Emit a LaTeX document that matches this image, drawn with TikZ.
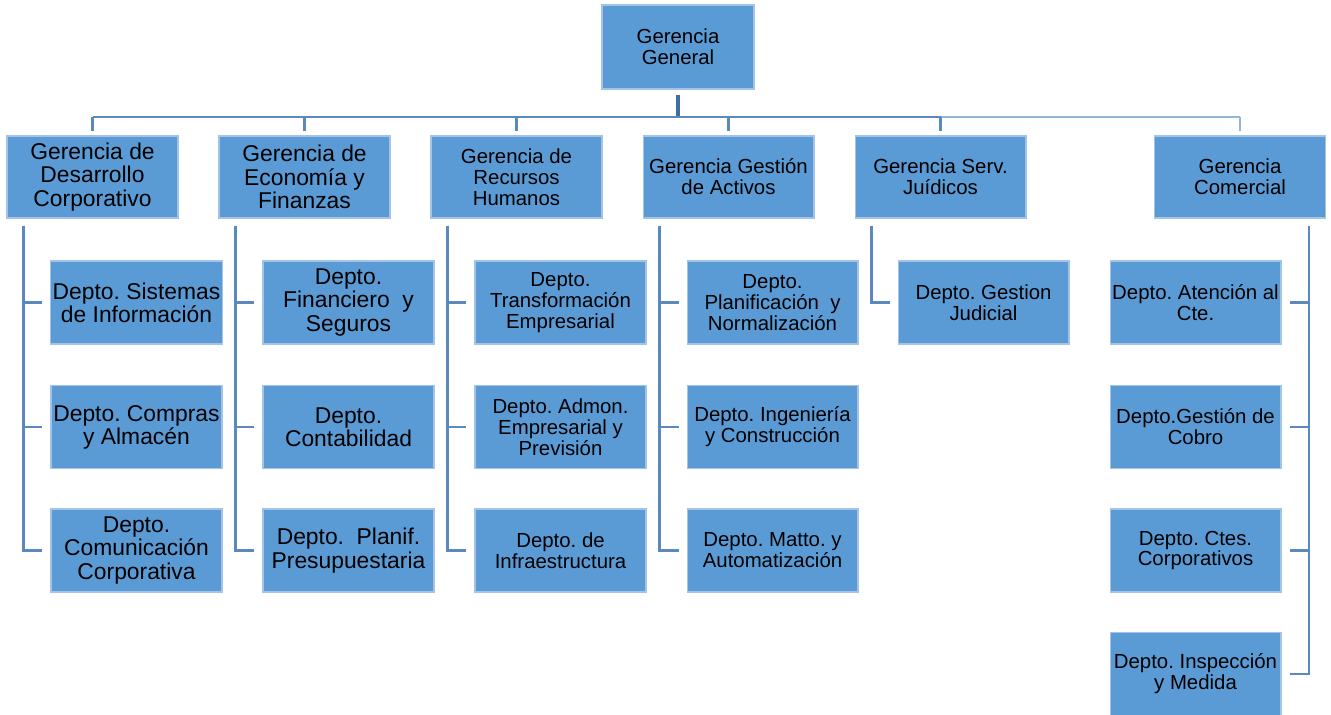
\documentclass[tikz,border=0pt]{standalone}
\usepackage{fontspec}
\setmainfont{Liberation Sans}
\usepackage{tikz}
\usetikzlibrary{calc}
\frenchspacing
\definecolor{boxblue}{HTML}{5B9BD5}
\definecolor{boxline}{HTML}{A3C4E8}
\definecolor{linkblue}{HTML}{5B89BE}
\definecolor{linklight}{HTML}{93B5DA}
\definecolor{topdark}{HTML}{3E6FA3}

\tikzset{
  box/.style={draw=boxline, fill=boxblue, line width=0.6pt, align=center, inner sep=1pt, text=black},
  gbox/.style={box, minimum width=3.42cm, minimum height=1.64cm},
  dbox/.style={box, minimum width=3.42cm, minimum height=1.66cm},
  big/.style={font=\fontsize{13}{13.2}\selectfont},
  mid/.style={font=\fontsize{11.6}{11.9}\selectfont},
  link/.style={draw=linkblue, line width=1.2pt},
}

\begin{document}
\begin{tikzpicture}[x=0.02cm, y=-0.02cm]
    \useasboundingbox (0,0) rectangle (1331,715);

    % top
    \node[box, mid, minimum width=3.04cm, minimum height=1.68cm] (gg) at (678,47) {Gerencia\\General};

    % gerencias
    \node[gbox, big] (g1) at (92.5,177) {Gerencia de\\Desarrollo\\Corporativo};
    \node[gbox, big] (g2) at (304.5,177) {Gerencia de\\Economía y\\Finanzas};
    \node[gbox, mid] (g3) at (516.5,177) {Gerencia de\\Recursos\\Humanos};
    \node[gbox, mid] (g4) at (728.5,177) {Gerencia Gestión\\de Activos};
    \node[gbox, mid] (g5) at (940.5,177) {Gerencia Serv.\\Juídicos};
    \node[gbox, mid] (g6) at (1240,177) {Gerencia\\Comercial};

    % departamentos
    \node[dbox, big] (d11) at (136.5,302.5) {Depto. Sistemas\\de Información};
    \node[dbox, big] (d12) at (136.5,427) {Depto. Compras\\y Almacén};
    \node[dbox, big] (d13) at (136.5,550.5) {Depto.\\Comunicación\\Corporativa};

    \node[dbox, big] (d21) at (348.5,302.5) {Depto.\\Financiero~ y\\Seguros};
    \node[dbox, big] (d22) at (348.5,427) {Depto.\\Contabilidad};
    \node[dbox, big] (d23) at (348.5,550.5) {Depto.~ Planif.\\Presupuestaria};

    \node[dbox, mid] (d31) at (560.5,302.5) {Depto.\\Transformación\\Empresarial};
    \node[dbox, mid] (d32) at (560.5,427) {Depto. Admon.\\Empresarial y\\Previsión};
    \node[dbox, mid] (d33) at (560.5,550.5) {Depto. de\\Infraestructura};

    \node[dbox, mid] (d41) at (772.5,302.5) {Depto.\\Planificación~ y\\Normalización};
    \node[dbox, mid] (d42) at (772.5,427) {Depto. Ingeniería\\y Construcción};
    \node[dbox, mid] (d43) at (772.5,550.5) {Depto. Matto. y\\Automatización};

    \node[dbox, mid] (d51) at (983.5,302.5) {Depto. Gestion\\Judicial};

    \node[dbox, mid] (d61) at (1195.5,302.5) {Depto. Atención al\\Cte.};
    \node[dbox, mid] (d62) at (1195.5,427) {Depto.Gestión de\\Cobro};
    \node[dbox, mid] (d63) at (1195.5,550.5) {Depto. Ctes.\\Corporativos};
    \node[dbox, mid] (d64) at (1195.5,674) {Depto. Inspección\\y Medida};

    % bar under Gerencia General
    \coordinate (bar) at (678,117);
    \draw[draw=topdark, line width=2pt, shorten <=0.1cm] (gg.south) -- (gg.south |- bar);
    \draw[link, line width=1.6pt] (bar -| g1.north) -- (bar -| g5.north);
    \draw[draw=linklight, line width=1.6pt] (bar -| g5.north) -- (bar -| g6.north);
    \foreach \g in {g1,g2,g3,g4,g5}
      \draw[link, shorten >=0.08cm] (bar -| \g.north) -- (\g.north);
    \draw[draw=linklight, line width=1.2pt, shorten >=0.08cm] (bar -| g6.north) -- (g6.north);

    % spines
    \foreach \g/\ds in {g1/{d11,d12,d13}, g2/{d21,d22,d23}, g3/{d31,d32,d33}, g4/{d41,d42,d43}, g5/{d51}}
      \foreach \d in \ds
        \draw[link] ([shift={(17,7)}]\g.south west) |- ([xshift=-0.16cm]\d.west);
    \foreach \d in {d61,d62,d63,d64}
      \draw[link] ([shift={(-17,7)}]g6.south east) |- ([xshift=0.16cm]\d.east);
\end{tikzpicture}
\end{document}
